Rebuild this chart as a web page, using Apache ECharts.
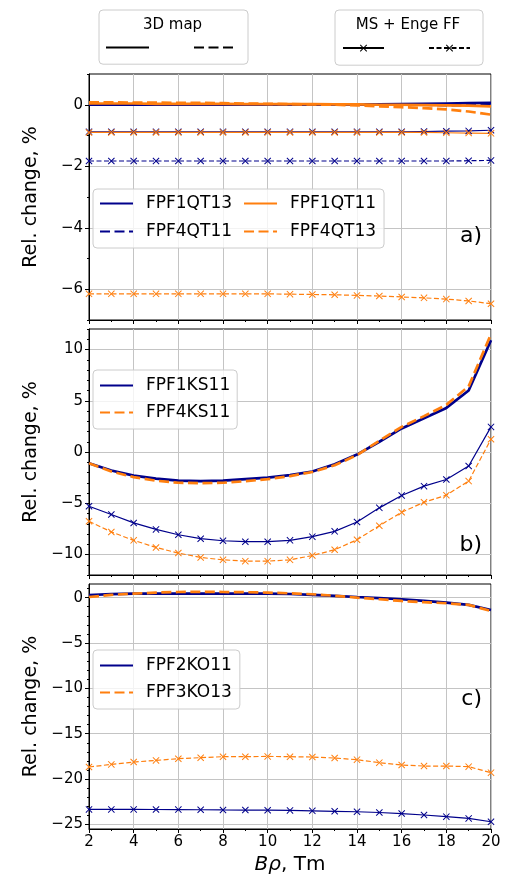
<!DOCTYPE html>
<html><head><meta charset="utf-8">
<script src="https://cdn.jsdelivr.net/npm/echarts@6/dist/echarts.min.js"></script>
<style>html,body{margin:0;padding:0;background:#fff}#c{width:507px;height:884px}</style>
</head><body><div id="c"></div>
<script>
// ---------------- data ----------------
const xValues = [2,3,4,5,6,7,8,9,10,11,12,13,14,15,16,17,18,19,20];
const xTicksMajorInterval = 2;

// panel a) quadrupoles
const a_FPF1QT13_3d = [0,0,0,0,0,0,0,0,0,0,0,0,0,0.01,0.02,0.03,0.04,0.05,0.06];
const a_FPF4QT11_3d = [0.01,0.01,0.01,0.01,0.01,0.01,0.01,0.01,0.01,0.01,0.01,0.01,0.01,0.0,0.0,0.0,-0.01,-0.01,-0.02];
const a_FPF1QT11_3d = [0.04,0.04,0.04,0.03,0.03,0.03,0.03,0.02,0.02,0.02,0.02,0.01,0.01,0.0,0.0,-0.01,-0.02,-0.03,-0.05];
const a_FPF4QT13_3d = [0.08,0.08,0.07,0.07,0.06,0.06,0.05,0.04,0.03,0.02,0.01,0.0,-0.02,-0.05,-0.08,-0.11,-0.15,-0.22,-0.32];
const a_FPF1QT13_ms = [-0.88,-0.88,-0.88,-0.88,-0.88,-0.88,-0.88,-0.88,-0.88,-0.88,-0.88,-0.88,-0.88,-0.88,-0.88,-0.87,-0.86,-0.85,-0.83];
const a_FPF4QT11_ms = [-1.83,-1.83,-1.83,-1.83,-1.83,-1.83,-1.83,-1.83,-1.83,-1.83,-1.83,-1.83,-1.83,-1.83,-1.83,-1.83,-1.83,-1.82,-1.81];
const a_FPF1QT11_ms = [-0.9,-0.9,-0.9,-0.9,-0.9,-0.9,-0.9,-0.9,-0.9,-0.9,-0.9,-0.9,-0.9,-0.9,-0.9,-0.9,-0.91,-0.92,-0.93];
const a_FPF4QT13_ms = [-6.15,-6.15,-6.15,-6.15,-6.15,-6.15,-6.15,-6.15,-6.15,-6.16,-6.17,-6.18,-6.2,-6.22,-6.25,-6.28,-6.32,-6.38,-6.47];

// panel b) sextupoles
const b_FPF1KS11_3d = [-1.1,-1.8,-2.3,-2.6,-2.8,-2.85,-2.8,-2.65,-2.5,-2.25,-1.9,-1.2,-0.25,1.0,2.3,3.3,4.3,6.0,10.9];
const b_FPF4KS11_3d = [-1.1,-1.9,-2.45,-2.8,-3.0,-3.05,-3.0,-2.85,-2.65,-2.35,-1.95,-1.3,-0.3,1.1,2.45,3.5,4.6,6.4,11.5];
const b_FPF1KS11_ms = [-5.29,-6.1,-6.92,-7.55,-8.07,-8.46,-8.66,-8.75,-8.75,-8.62,-8.26,-7.74,-6.83,-5.45,-4.25,-3.33,-2.68,-1.37,2.45];
const b_FPF4KS11_ms = [-6.76,-7.8,-8.62,-9.31,-9.86,-10.29,-10.52,-10.65,-10.65,-10.52,-10.1,-9.54,-8.56,-7.19,-5.88,-4.9,-4.21,-2.84,1.25];

// panel c) octupoles
const c_FPF2KO11_3d = [0.29,0.38,0.44,0.45,0.45,0.45,0.45,0.44,0.44,0.4,0.3,0.2,0.07,-0.05,-0.18,-0.35,-0.55,-0.8,-1.36];
const c_FPF3KO13_3d = [0.07,0.3,0.44,0.55,0.62,0.63,0.62,0.6,0.55,0.47,0.37,0.2,0.0,-0.18,-0.37,-0.5,-0.62,-0.8,-1.47];
const c_FPF2KO11_ms = [-23.34,-23.34,-23.34,-23.35,-23.36,-23.38,-23.4,-23.41,-23.43,-23.45,-23.5,-23.55,-23.6,-23.68,-23.8,-23.96,-24.14,-24.33,-24.7];
const c_FPF3KO13_ms = [-18.67,-18.38,-18.12,-17.94,-17.75,-17.64,-17.53,-17.53,-17.5,-17.53,-17.57,-17.68,-17.86,-18.19,-18.45,-18.56,-18.56,-18.63,-19.29];

// axis ticks
const aMajor = [-6,-4,-2,0];
const aMinor = [-7,-5,-3,-1,1];
const bMajor = [-10,-5,0,5,10];
const bMinor = [-12,-11,-9,-8,-7,-6,-4,-3,-2,-1,1,2,3,4,6,7,8,9,11,12];
const cMajor = [-25,-20,-15,-10,-5,0];
const cMinor = [-24,-23,-22,-21,-19,-18,-17,-16,-14,-13,-12,-11,-9,-8,-7,-6,-4,-3,-2,-1,1];
const yRanges = [[-7,1],[-12,12],[-25.5,1.5]];
const panelLetters = ['a)','b)','c)'];
const yLabel = 'Rel. change, %';

// ---------------- style ----------------
const FONT = 'DejaVu Sans';
const NAVY = '#00008b', ORANGE = '#ff7f0e';
const X_MARK = 'path://M0,1L1,0L5,4L9,0L10,1L6,5L10,9L9,10L5,6L1,10L0,9L4,5Z';
const GRID_TOPS = [74, 329, 584];
const GRID_H = [246, 246, 245];
const GRID_COLOR = '#c4c4c4';

function fmt(v){ return v < 0 ? '\u2212' + (-v) : String(v); }

function mk(name, vals, color, dashed, ms, g){
  return {
    type:'line', name, xAxisIndex:g, yAxisIndex:g*2,
    data: xValues.map((x,i)=>[x, vals[i]]),
    color, symbol: ms ? X_MARK : 'none', symbolSize: 7, showAllSymbol:true,
    lineStyle:{color, width: ms ? 1.2 : 2.7, type: dashed ? (ms ? [5,2.5] : [10,4.5]) : 'solid'},
    itemStyle:{color}, silent:true, animation:false, emphasis:{disabled:true}
  };
}
function dummy(name, dashed, ms){
  return {type:'line', name, xAxisIndex:0, yAxisIndex:0, data:[], color:'#000',
    symbol: ms ? X_MARK : 'none', symbolSize:7,
    lineStyle:{color:'#000', width: ms ? 1.2 : 2.7, type: dashed ? (ms ? [5,2.5] : [10,4.5]) : 'solid'},
    itemStyle:{color:'#000'}, silent:true, animation:false};
}

const grids = [], xAxes = [], yAxes = [];
const majors = [aMajor, bMajor, cMajor], minors = [aMinor, bMinor, cMinor];
for (let g = 0; g < 3; g++) {
  grids.push({left:89, width:402, top:GRID_TOPS[g], height:GRID_H[g], show:true,
    borderColor:'#000', borderWidth:1, backgroundColor:'transparent'});
  xAxes.push({gridIndex:g, type:'value', min:xValues[0], max:xValues[xValues.length-1], interval:xTicksMajorInterval,
    axisLine:{show:true, onZero:false, lineStyle:{color:'#000', width:1}},
    axisTick:{show:true, length:4, lineStyle:{color:'#000'}},
    minorTick:{show:true, splitNumber:2, length:2, lineStyle:{color:'#000'}},
    axisLabel:{show: g===2, fontSize:15, fontFamily:FONT, color:'#000', margin:6},
    splitLine:{show:true, lineStyle:{color:GRID_COLOR, width:1}},
    name: g===2 ? '{i|B\u03c1}, Tm' : '', nameLocation:'middle', nameGap:26,
    nameTextStyle:{fontSize:20, fontFamily:FONT, color:'#000', rich:{i:{fontStyle:'italic', fontSize:20, fontFamily:FONT, color:'#000'}}}
  });
  yAxes.push({gridIndex:g, type:'value', min:yRanges[g][0], max:yRanges[g][1], position:'left',
    axisLine:{show:true, onZero:false, lineStyle:{color:'#000', width:1}},
    axisTick:{show:true, length:4, customValues:majors[g], lineStyle:{color:'#000'}},
    axisLabel:{customValues:majors[g], formatter:fmt, fontSize:15, fontFamily:FONT, color:'#000', margin:6},
    splitLine:{show:true, lineStyle:{color:GRID_COLOR, width:1}},
    name:yLabel, nameLocation:'middle', nameGap:48,
    nameTextStyle:{fontSize:19, fontFamily:FONT, color:'#000'}
  });
  yAxes.push({gridIndex:g, type:'value', min:yRanges[g][0], max:yRanges[g][1], position:'left',
    axisLine:{show:false, onZero:false},
    axisTick:{show:true, length:2, customValues:minors[g], lineStyle:{color:'#000'}},
    axisLabel:{show:false}, splitLine:{show:false}});
}

const series = [
  mk('FPF1QT13', a_FPF1QT13_3d, NAVY, false, false, 0),
  mk('FPF4QT11', a_FPF4QT11_3d, NAVY, true, false, 0),
  mk('FPF1QT13 MS', a_FPF1QT13_ms, NAVY, false, true, 0),
  mk('FPF4QT11 MS', a_FPF4QT11_ms, NAVY, true, true, 0),
  mk('FPF1QT11', a_FPF1QT11_3d, ORANGE, false, false, 0),
  mk('FPF4QT13', a_FPF4QT13_3d, ORANGE, true, false, 0),
  mk('FPF1QT11 MS', a_FPF1QT11_ms, ORANGE, false, true, 0),
  mk('FPF4QT13 MS', a_FPF4QT13_ms, ORANGE, true, true, 0),
  mk('FPF1KS11', b_FPF1KS11_3d, NAVY, false, false, 1),
  mk('FPF1KS11 MS', b_FPF1KS11_ms, NAVY, false, true, 1),
  mk('FPF4KS11', b_FPF4KS11_3d, ORANGE, true, false, 1),
  mk('FPF4KS11 MS', b_FPF4KS11_ms, ORANGE, true, true, 1),
  mk('FPF2KO11', c_FPF2KO11_3d, NAVY, false, false, 2),
  mk('FPF2KO11 MS', c_FPF2KO11_ms, NAVY, false, true, 2),
  mk('FPF3KO13', c_FPF3KO13_3d, ORANGE, true, false, 2),
  mk('FPF3KO13 MS', c_FPF3KO13_ms, ORANGE, true, true, 2),
  dummy('3D solid', false, false), dummy('3D dashed', true, false),
  dummy('MS solid', false, true), dummy('MS dashed', true, true)
];

const legBox = {borderColor:'#cccccc', borderWidth:1, borderRadius:4, backgroundColor:'rgba(255,255,255,0.8)', selectedMode:false};
const noSym = {itemStyle:{opacity:0}};
const legText = {fontSize:17, fontFamily:FONT, color:'#000', lineHeight:16, padding:[0,0,0,8]};
const legends = [
  Object.assign({data:['FPF1QT13','FPF1QT11','FPF4QT11','FPF4QT13'], orient:'horizontal', left:93, top:189, width:282,
    itemWidth:33, itemHeight:14, itemGap:11, padding:[6,8,8,6], textStyle:legText}, legBox, noSym),
  Object.assign({data:['FPF1KS11','FPF4KS11'], orient:'vertical', left:93, top:370,
    itemWidth:33, itemHeight:14, itemGap:10, padding:[7,7,8,6], textStyle:legText}, legBox, noSym),
  Object.assign({data:['FPF2KO11','FPF3KO13'], orient:'vertical', left:93, top:650,
    itemWidth:33, itemHeight:14, itemGap:10, padding:[7,8,8,6], textStyle:legText}, legBox, noSym),
  Object.assign({data:['3D solid','3D dashed'], orient:'horizontal', left:99, top:10,
    itemWidth:43, itemHeight:14, itemGap:39, padding:[32,6,11,6], formatter:()=>'',
    textStyle:{fontSize:10, lineHeight:14, padding:0}}, legBox, noSym),
  Object.assign({data:['MS solid','MS dashed'], orient:'horizontal', left:335, top:10,
    itemWidth:41, itemHeight:9, itemGap:39, padding:[34.5,8,13.5,7], formatter:()=>'',
    textStyle:{fontSize:9, lineHeight:9, padding:0}}, legBox)
];

const titleStyle = {fontSize:15, fontWeight:'normal', fontFamily:FONT, color:'#000'};
const letterStyle = {fontSize:22, fontWeight:'normal', fontFamily:FONT, color:'#000'};
const titles = [
  {text:'3D map', left:172.5, top:18, textAlign:'center', padding:0, textStyle:titleStyle},
  {text:'MS + Enge FF', left:408, top:18, textAlign:'center', padding:0, textStyle:titleStyle},
  {text:panelLetters[0], left:482, top:225, textAlign:'right', padding:0, textStyle:letterStyle},
  {text:panelLetters[1], left:482, top:534, textAlign:'right', padding:0, textStyle:letterStyle},
  {text:panelLetters[2], left:482, top:688, textAlign:'right', padding:0, textStyle:letterStyle}
];

const chart = echarts.init(document.getElementById('c'), null, {renderer:'canvas'});
chart.setOption({
  animation:false, backgroundColor:'#fff',
  textStyle:{fontFamily:FONT},
  title:titles, grid:grids, xAxis:xAxes, yAxis:yAxes, legend:legends, series
});
</script></body></html>
